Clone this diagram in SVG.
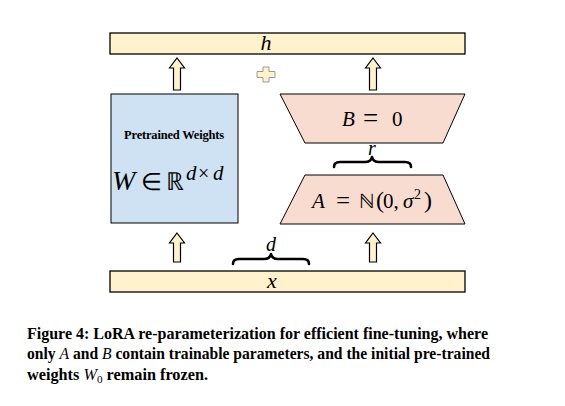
<svg xmlns="http://www.w3.org/2000/svg" width="565" height="406" viewBox="0 0 565 406">
<style>
.bar{fill:#fff2cc;stroke:#000;stroke-width:1.3}
.trap{fill:#f9dcd0;stroke:#000;stroke-width:1}
.arrow{fill:#fff2cc;stroke:#000;stroke-width:1.2;stroke-linejoin:miter}
.brace{fill:none;stroke:#000;stroke-width:2.6;stroke-linecap:round;stroke-linejoin:round}
</style>
<rect width="565" height="406" fill="#fff"/>

<g id="h">
<rect class="bar" x="110" y="33" width="355" height="21"/>
<text font-family="Liberation Serif" x="266" y="50" font-size="22" font-style="italic" text-anchor="middle">h</text>
</g>

<g id="x">
<rect class="bar" x="110" y="271" width="355" height="21"/>
<text font-family="Liberation Serif" x="272" y="288" font-size="22" font-style="italic" text-anchor="middle">x</text>
</g>

<g id="W">
<rect x="111" y="94" width="127" height="129" fill="#cfe2f3" stroke="#000" stroke-width="1"/>
<text font-family="Liberation Serif" x="174" y="139" font-size="12.5" font-weight="bold" text-anchor="middle" letter-spacing="-0.2">Pretrained Weights</text>
<text font-family="Liberation Serif" y="190" font-size="28" font-style="italic"><tspan x="112">W</tspan><tspan x="141" font-style="normal" font-size="24">∈</tspan><tspan x="166" font-style="normal" font-size="25">ℝ</tspan><tspan x="186" y="180" font-size="21">d</tspan><tspan x="198" font-style="normal" font-size="20">×</tspan><tspan x="213" font-size="21">d</tspan></text>
</g>

<g id="B">
<polygon class="trap" points="280,94 465,94 443,143 305,143"/>
<text font-family="Liberation Serif" y="126" font-size="21" font-style="italic"><tspan x="342">B</tspan><tspan x="363" font-style="normal" font-size="27" y="127">=</tspan><tspan x="392" y="126" font-style="normal">0</tspan></text>
</g>

<g id="A">
<polygon class="trap" points="305,175 443,175 465,224 280,224"/>
<text font-family="Liberation Serif" y="208" font-size="21" font-style="italic"><tspan x="312">A</tspan><tspan x="336" font-style="normal" font-size="25" y="209">=</tspan><tspan x="359" y="208" font-style="normal" font-size="20">ℕ</tspan><tspan x="376" font-style="normal" font-size="24">(</tspan><tspan x="383" font-style="normal">0,</tspan><tspan x="403">σ</tspan><tspan x="414" y="199" font-style="normal" font-size="14">2</tspan><tspan x="424" y="208" font-style="normal" font-size="24">)</tspan></text>
</g>

<g id="plus">
<path d="M263,67 h6 v4.5 h6 v6 h-6 v4.5 h-6 v-4.5 h-6 v-6 h6 Z" fill="#fff2cc" stroke="#999" stroke-width="1"/>
</g>

<g id="r-brace">
<path class="brace" d="M334,167 Q334,162 340,162 L365,162 Q371,162 372,157 Q373,162 379,162 L405,162 Q411,162 411,167"/>
<text font-family="Liberation Serif" x="372" y="155" font-size="20" font-style="italic" text-anchor="middle">r</text>
</g>

<g id="d-brace">
<path class="brace" d="M233,264 Q233,259 239,259 L264,259 Q270,259 271,254 Q272,259 278,259 L303,259 Q309,259 309,264"/>
<text font-family="Liberation Serif" x="271" y="251" font-size="20" font-style="italic" text-anchor="middle">d</text>
</g>

<g id="connectors">
<path class="arrow" d="M177,58 L184.5,68 L180.5,68 L180.5,90 L173.5,90 L173.5,68 L169.5,68 Z"/>
<path class="arrow" d="M373,58 L380.5,68 L376.5,68 L376.5,90 L369.5,90 L369.5,68 L365.5,68 Z"/>
<path class="arrow" d="M177,233 L184.5,243 L180.5,243 L180.5,262 L173.5,262 L173.5,243 L169.5,243 Z"/>
<path class="arrow" d="M373,233 L380.5,243 L376.5,243 L376.5,262 L369.5,262 L369.5,243 L365.5,243 Z"/>
</g>

<g id="caption">
<text font-family="Liberation Serif" font-weight="bold" font-size="16" x="27" y="339" textLength="461" lengthAdjust="spacingAndGlyphs">Figure 4: LoRA re-parameterization for efficient fine-tuning, where</text>
<text font-family="Liberation Serif" font-weight="bold" font-size="16" x="27" y="359" textLength="463" lengthAdjust="spacingAndGlyphs">only <tspan font-style="italic" font-weight="normal">A</tspan> and <tspan font-style="italic" font-weight="normal">B</tspan> contain trainable parameters, and the initial pre-trained</text>
<text font-family="Liberation Serif" font-weight="bold" font-size="16" x="27" y="380" textLength="181" lengthAdjust="spacingAndGlyphs">weights <tspan font-style="italic" font-weight="normal">W</tspan><tspan font-weight="normal" font-size="11" dy="3">0</tspan><tspan dy="-3"> remain frozen.</tspan></text>
</g>
</svg>
